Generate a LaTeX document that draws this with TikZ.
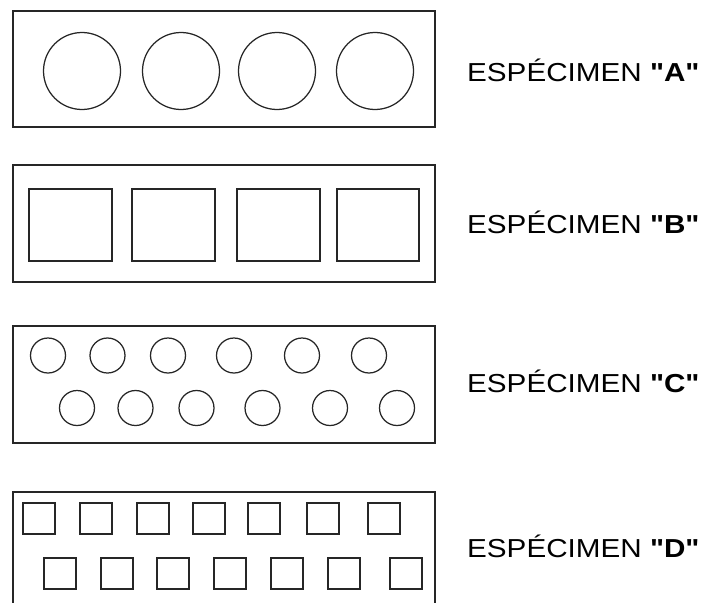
\documentclass[tikz,border=0pt]{standalone}
\usepackage{fontspec}
\setmainfont{Liberation Sans}
\newcommand{\qq}[1]{\textbf{\textquotedbl#1\textquotedbl}}
\begin{document}
\begin{tikzpicture}[x=1pt,y=-1pt,
  outline/.style={draw=black!85,line width=1.3pt},
  hole/.style={draw=black!85,line width=1.25pt},
  lbl/.style={anchor=base west,inner sep=0pt,font=\fontsize{26}{30}\selectfont}]
\useasboundingbox (0,0) rectangle (703,602);
% specimen A
\draw[outline] (13,11) rectangle (435,127);
\foreach \cx in {82,181,277,375} \draw[hole] (\cx,71) circle (38.5);
\node[lbl] (la) at (467,81) {\scalebox{1.14}[1]{ESPÉCIMEN \qq{A}}};
% specimen B
\draw[outline] (13,165) rectangle (435,282);
\foreach \a/\b in {29/112,132/215,237/320,337/419} \draw[hole] (\a,189) rectangle (\b,261);
\node[lbl] (lb) at (467,233) {\scalebox{1.14}[1]{ESPÉCIMEN \qq{B}}};
% specimen C
\draw[outline] (13,326) rectangle (435,443);
\foreach \cx in {48,107.5,168,234,302,369} \draw[hole] (\cx,355.5) circle (17.5);
\foreach \cx in {77,135.5,196.5,262.5,330,397} \draw[hole] (\cx,408) circle (17.5);
\node[lbl] (lc) at (467,392) {\scalebox{1.14}[1]{ESPÉCIMEN \qq{C}}};
% specimen D
\draw[outline] (13,605) -- (13,492) -- (435,492) -- (435,605);
\foreach \a in {23,80,137,193,248,307,368} \draw[hole] (\a,503) rectangle ++(32,31);
\foreach \a in {44,101,157,214,271,328,390} \draw[hole] (\a,558) rectangle ++(32,31);
\node[lbl] (ld) at (467,557) {\scalebox{1.14}[1]{ESPÉCIMEN \qq{D}}};
\end{tikzpicture}
\end{document}
